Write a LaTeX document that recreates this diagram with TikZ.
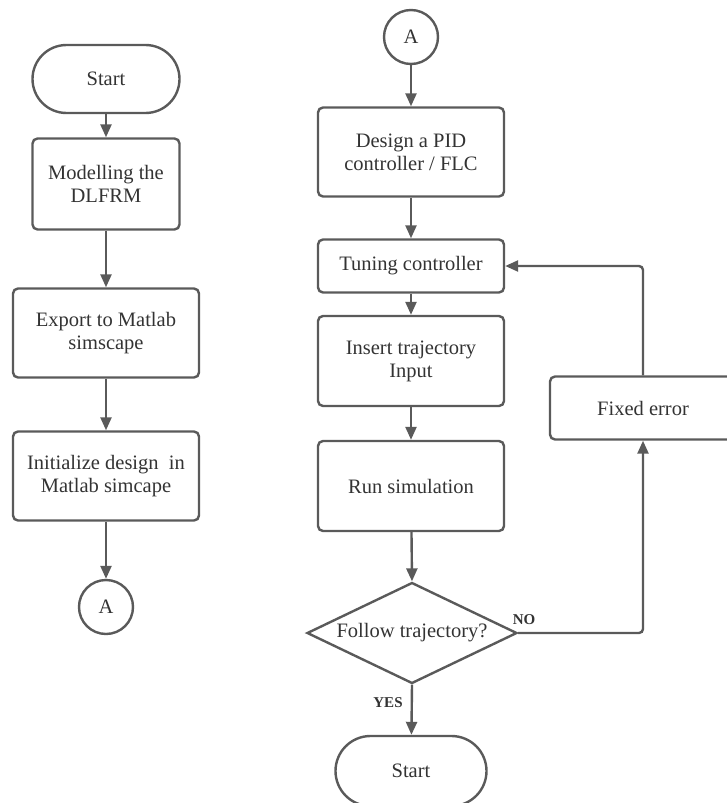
\documentclass[tikz,border=0pt]{standalone}
\usepackage{fontspec}
\setmainfont{Liberation Serif}
\usetikzlibrary{arrows.meta,shapes.geometric}
\definecolor{ln}{HTML}{5A5A5A}
\definecolor{tx}{HTML}{333333}
\begin{document}
\begin{tikzpicture}[x=1pt,y=-1pt,
  every node/.style={text=tx,font=\fontsize{20.5}{23}\selectfont},
  box/.style={draw=ln,line width=2.4pt,rounded corners=5pt,align=center,inner sep=0pt,minimum width=#1},
  term/.style={draw=ln,line width=2.4pt,rounded corners=34pt,minimum width=147pt,minimum height=68pt,inner sep=0pt},
  conn/.style={draw=ln,line width=2.4pt,circle,minimum size=54pt,inner sep=0pt},
  arr/.style={draw=ln,line width=2.4pt,-{Triangle[length=13pt,width=11pt]}},
  lbl/.style={font=\fontsize{15}{16}\selectfont\bfseries}
]
\useasboundingbox (0,0) rectangle (727,803);
\clip (0,0) rectangle (727,803);
% left column
\node[term] (start) at (106,79) {Start};
\node[box=147pt,minimum height=91pt] (model) at (106,184) {Modelling the\\DLFRM};
\node[box=186pt,minimum height=89pt] (export) at (106,333) {Export to Matlab\\simscape};
\node[box=186pt,minimum height=89pt] (init) at (106,476) {Initialize design\ \ in\\Matlab simcape};
\node[conn] (a1) at (106,607) {A};
% right column
\node[conn] (a2) at (411,37) {A};
\node[box=186pt,minimum height=89pt] (design) at (411,152) {Design a PID\\controller / FLC};
\node[box=186pt,minimum height=53pt] (tune) at (411,266) {Tuning controller};
\node[box=186pt,minimum height=90pt] (insert) at (411,361) {Insert trajectory\\Input};
\node[box=186pt,minimum height=90pt] (run) at (411,486) {Run simulation};
\node[diamond,aspect=2.08,draw=ln,line width=2.4pt,minimum width=210pt,minimum height=101pt,inner sep=0pt] (dec) at (412,633) {Follow trajectory?};
\node[term,minimum width=151pt,minimum height=70pt,rounded corners=35pt] (stop) at (411,771) {Start};
\node[box=186pt,minimum height=63pt] (fixed) at (643,408) {Fixed error};
% labels
\node[lbl] at (524,620) {NO};
\node[lbl] at (388,703) {YES};
% connectors
\draw[arr] (start) -- (model);
\draw[arr] (model) -- (export);
\draw[arr] (export) -- (init);
\draw[arr] (init) -- (a1);
\draw[arr] (a2) -- (design);
\draw[arr] (design) -- (tune);
\draw[arr] (tune) -- (insert);
\draw[arr] (insert) -- (run);
\draw[arr] (run) -- (dec.north);
\draw[arr] (dec.south) -- (stop);
\draw[arr,rounded corners=4pt] (dec.east) -| (fixed.south);
\draw[arr,rounded corners=4pt] (fixed.north) |- (tune.east);
\end{tikzpicture}
\end{document}
